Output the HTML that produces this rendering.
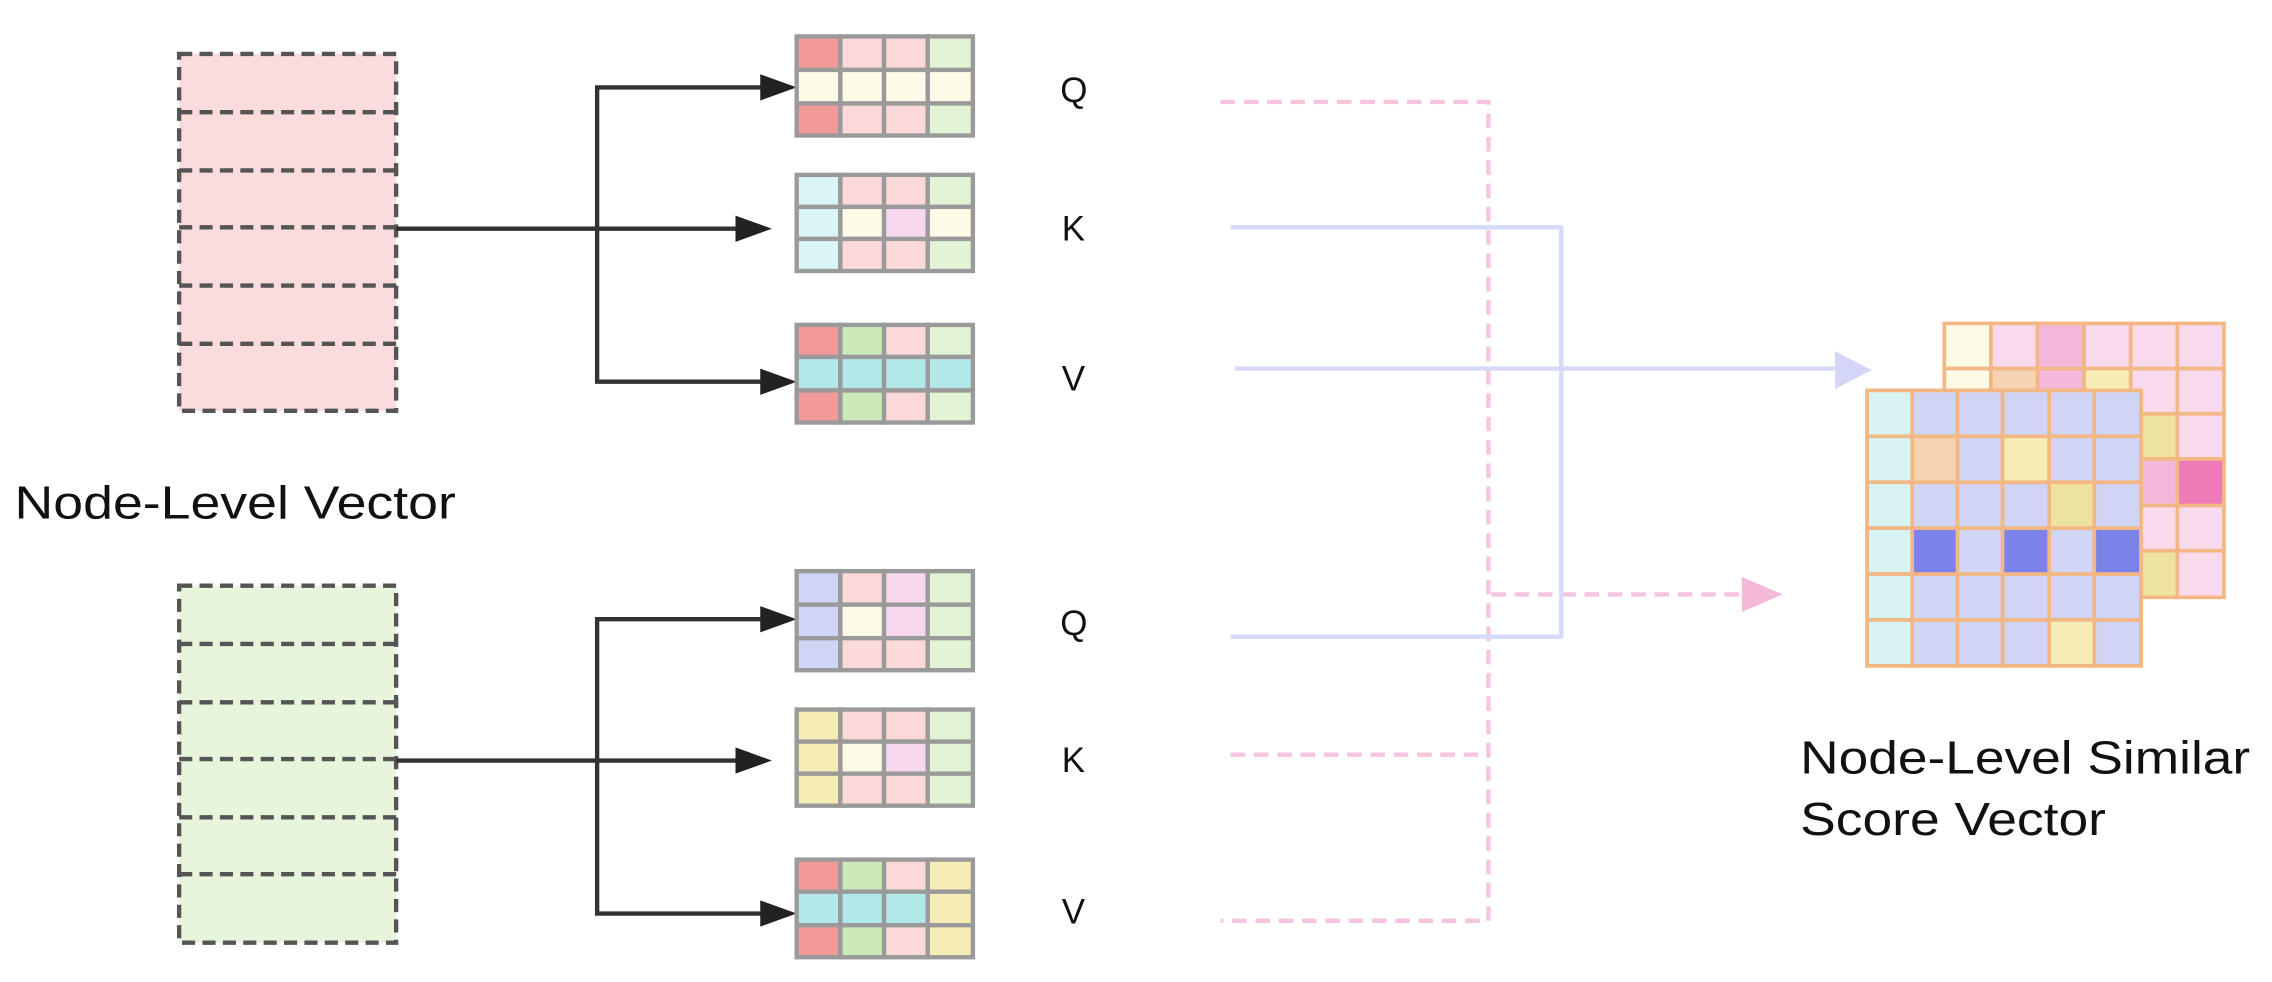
<!DOCTYPE html>
<html><head><meta charset="utf-8"><style>
html,body{margin:0;padding:0;background:#fff;}
svg{display:block;}
text{font-family:"Liberation Sans",sans-serif;fill:#111;}
</style></head><body>
<svg width="2272" height="982" viewBox="0 0 1560 674" preserveAspectRatio="none" xmlns="http://www.w3.org/2000/svg">
<!-- input boxes -->
<g stroke="#555" stroke-width="3" stroke-dasharray="9,5">
<rect x="123" y="37" width="149" height="245" fill="#fbdcdc"/>
<line x1="123" y1="77" x2="272" y2="77"/><line x1="123" y1="117" x2="272" y2="117"/><line x1="123" y1="156" x2="272" y2="156"/><line x1="123" y1="196" x2="272" y2="196"/><line x1="123" y1="236" x2="272" y2="236"/>
<rect x="123" y="402" width="149" height="245" fill="#e6f5db"/>
<line x1="123" y1="442" x2="272" y2="442"/><line x1="123" y1="482" x2="272" y2="482"/><line x1="123" y1="521" x2="272" y2="521"/><line x1="123" y1="561" x2="272" y2="561"/><line x1="123" y1="600" x2="272" y2="600"/>
</g>
<!-- black arrows -->
<g stroke="#333" stroke-width="3" fill="none">
<line x1="272" y1="157" x2="508" y2="157"/>
<polyline points="525,60 410,60 410,262 525,262"/>
<line x1="272" y1="522" x2="508" y2="522"/>
<polyline points="525,425 410,425 410,627 525,627"/>
</g>
<g fill="#222">
<path d="M505,148 L530,157 L505,166z"/><path d="M522,51 L547,60 L522,69z"/><path d="M522,253 L547,262 L522,271z"/>
<path d="M505,513 L530,522 L505,531z"/><path d="M522,416 L547,425 L522,434z"/><path d="M522,618 L547,627 L522,636z"/>
</g>
<!-- matrices -->
<g stroke="#9a9a9a" stroke-width="3">
<rect x="547" y="25" width="30" height="23" fill="#f29a9a"/><rect x="577" y="25" width="30" height="23" fill="#fbd9d9"/><rect x="607" y="25" width="30" height="23" fill="#fbd9d9"/><rect x="637" y="25" width="31" height="23" fill="#e3f4d6"/>
<rect x="547" y="48" width="30" height="23" fill="#fdfae8"/><rect x="577" y="48" width="30" height="23" fill="#fdfae8"/><rect x="607" y="48" width="30" height="23" fill="#fdfae8"/><rect x="637" y="48" width="31" height="23" fill="#fdfae8"/>
<rect x="547" y="71" width="30" height="22" fill="#f29a9a"/><rect x="577" y="71" width="30" height="22" fill="#fbd9d9"/><rect x="607" y="71" width="30" height="22" fill="#fbd9d9"/><rect x="637" y="71" width="31" height="22" fill="#e3f4d6"/>
<rect x="547" y="120" width="30" height="22" fill="#d9f5f5"/><rect x="577" y="120" width="30" height="22" fill="#fbd9d9"/><rect x="607" y="120" width="30" height="22" fill="#fbd9d9"/><rect x="637" y="120" width="31" height="22" fill="#e3f4d6"/>
<rect x="547" y="142" width="30" height="22" fill="#d9f5f5"/><rect x="577" y="142" width="30" height="22" fill="#fdfae8"/><rect x="607" y="142" width="30" height="22" fill="#f8d8ee"/><rect x="637" y="142" width="31" height="22" fill="#fdfae8"/>
<rect x="547" y="164" width="30" height="22" fill="#d9f5f5"/><rect x="577" y="164" width="30" height="22" fill="#fbd9d9"/><rect x="607" y="164" width="30" height="22" fill="#fbd9d9"/><rect x="637" y="164" width="31" height="22" fill="#e3f4d6"/>
<rect x="547" y="223" width="30" height="22" fill="#f29a9a"/><rect x="577" y="223" width="30" height="22" fill="#cbeab8"/><rect x="607" y="223" width="30" height="22" fill="#fbd9d9"/><rect x="637" y="223" width="31" height="22" fill="#e3f4d6"/>
<rect x="547" y="245" width="30" height="23" fill="#b3e8e8"/><rect x="577" y="245" width="30" height="23" fill="#b3e8e8"/><rect x="607" y="245" width="30" height="23" fill="#b3e8e8"/><rect x="637" y="245" width="31" height="23" fill="#b3e8e8"/>
<rect x="547" y="268" width="30" height="22" fill="#f29a9a"/><rect x="577" y="268" width="30" height="22" fill="#cbeab8"/><rect x="607" y="268" width="30" height="22" fill="#fbd9d9"/><rect x="637" y="268" width="31" height="22" fill="#e3f4d6"/>
<rect x="547" y="392" width="30" height="23" fill="#d0d4f5"/><rect x="577" y="392" width="30" height="23" fill="#fbd9d9"/><rect x="607" y="392" width="30" height="23" fill="#f8d8ee"/><rect x="637" y="392" width="31" height="23" fill="#e3f4d6"/>
<rect x="547" y="415" width="30" height="23" fill="#d0d4f5"/><rect x="577" y="415" width="30" height="23" fill="#fdfae8"/><rect x="607" y="415" width="30" height="23" fill="#f8d8ee"/><rect x="637" y="415" width="31" height="23" fill="#e3f4d6"/>
<rect x="547" y="438" width="30" height="22" fill="#d0d4f5"/><rect x="577" y="438" width="30" height="22" fill="#fbd9d9"/><rect x="607" y="438" width="30" height="22" fill="#fbd9d9"/><rect x="637" y="438" width="31" height="22" fill="#e3f4d6"/>
<rect x="547" y="487" width="30" height="22" fill="#f5edb5"/><rect x="577" y="487" width="30" height="22" fill="#fbd9d9"/><rect x="607" y="487" width="30" height="22" fill="#fbd9d9"/><rect x="637" y="487" width="31" height="22" fill="#e3f4d6"/>
<rect x="547" y="509" width="30" height="22" fill="#f5edb5"/><rect x="577" y="509" width="30" height="22" fill="#fdfae8"/><rect x="607" y="509" width="30" height="22" fill="#f8d8ee"/><rect x="637" y="509" width="31" height="22" fill="#e3f4d6"/>
<rect x="547" y="531" width="30" height="22" fill="#f5edb5"/><rect x="577" y="531" width="30" height="22" fill="#fbd9d9"/><rect x="607" y="531" width="30" height="22" fill="#fbd9d9"/><rect x="637" y="531" width="31" height="22" fill="#e3f4d6"/>
<rect x="547" y="590" width="30" height="22" fill="#f29a9a"/><rect x="577" y="590" width="30" height="22" fill="#cbeab8"/><rect x="607" y="590" width="30" height="22" fill="#fbd9d9"/><rect x="637" y="590" width="31" height="22" fill="#f5edb5"/>
<rect x="547" y="612" width="30" height="23" fill="#b3e8e8"/><rect x="577" y="612" width="30" height="23" fill="#b3e8e8"/><rect x="607" y="612" width="30" height="23" fill="#b3e8e8"/><rect x="637" y="612" width="31" height="23" fill="#f5edb5"/>
<rect x="547" y="635" width="30" height="22" fill="#f29a9a"/><rect x="577" y="635" width="30" height="22" fill="#cbeab8"/><rect x="607" y="635" width="30" height="22" fill="#fbd9d9"/><rect x="637" y="635" width="31" height="22" fill="#f5edb5"/>
</g>
<g font-size="24">
<text x="728" y="70">Q</text><text x="729" y="165">K</text><text x="729" y="268">V</text>
<text x="728" y="436">Q</text><text x="729" y="530">K</text><text x="729" y="634">V</text>
</g>
<g stroke="#f7c4e0" stroke-width="3" fill="none" stroke-dasharray="10,6">
<polyline points="838,70 1022,70 1022,632 838,632"/>
<polyline points="845,518 1022,518"/>
<line x1="1024" y1="408" x2="1200" y2="408"/>
</g>
<path d="M1196,396 L1224,408 L1196,420z" fill="#f4b8d9"/>
<g stroke="#d6d9f7" stroke-width="3" fill="none">
<polyline points="845,156 1072,156 1072,437 845,437"/>
<line x1="848" y1="253" x2="1262" y2="253"/>
</g>
<path d="M1260,241 L1285,254 L1260,267z" fill="#d3d6f7"/>
<g stroke="#f2b782" stroke-width="2.5">
<rect x="1335" y="222" width="32" height="31" fill="#fdfae8"/><rect x="1367" y="222" width="32" height="31" fill="#f9d9ec"/><rect x="1399" y="222" width="32" height="31" fill="#f3b8da"/><rect x="1431" y="222" width="32" height="31" fill="#f9d9ec"/><rect x="1463" y="222" width="32" height="31" fill="#f9d9ec"/><rect x="1495" y="222" width="32" height="31" fill="#f9d9ec"/>
<rect x="1335" y="253" width="32" height="31" fill="#fdfae8"/><rect x="1367" y="253" width="32" height="31" fill="#f6d4b3"/><rect x="1399" y="253" width="32" height="31" fill="#f3b8da"/><rect x="1431" y="253" width="32" height="31" fill="#f5edb5"/><rect x="1463" y="253" width="32" height="31" fill="#f9d9ec"/><rect x="1495" y="253" width="32" height="31" fill="#f9d9ec"/>
<rect x="1463" y="284" width="32" height="31" fill="#efe3a0"/><rect x="1495" y="284" width="32" height="31" fill="#f9d9ec"/>
<rect x="1463" y="315" width="32" height="32" fill="#f3b8da"/><rect x="1495" y="315" width="32" height="32" fill="#ee7ab8"/>
<rect x="1463" y="347" width="32" height="31" fill="#f9d9ec"/><rect x="1495" y="347" width="32" height="31" fill="#f9d9ec"/>
<rect x="1463" y="378" width="32" height="32" fill="#efe3a0"/><rect x="1495" y="378" width="32" height="32" fill="#f9d9ec"/>
</g>
<g stroke="#f2b782" stroke-width="2.5">
<rect x="1282" y="268" width="188" height="189" fill="#d0d4f5"/>
<g fill="#d8f4f2"><rect x="1282" y="268" width="31" height="31.5"/><rect x="1282" y="299.5" width="31" height="31.5"/><rect x="1282" y="331" width="31" height="31.5"/><rect x="1282" y="362.5" width="31" height="31.5"/><rect x="1282" y="394" width="31" height="31.5"/><rect x="1282" y="425.5" width="31" height="31.5"/></g>
<g fill="#d0d4f5">
<rect x="1313" y="268" width="31" height="31.5"/><rect x="1344" y="268" width="31" height="31.5"/><rect x="1375" y="268" width="32" height="31.5"/><rect x="1407" y="268" width="31" height="31.5"/><rect x="1438" y="268" width="32" height="31.5"/>
<rect x="1344" y="299.5" width="31" height="31.5"/><rect x="1407" y="299.5" width="31" height="31.5"/><rect x="1438" y="299.5" width="32" height="31.5"/>
<rect x="1313" y="331" width="31" height="31.5"/><rect x="1344" y="331" width="31" height="31.5"/><rect x="1375" y="331" width="32" height="31.5"/><rect x="1438" y="331" width="32" height="31.5"/>
<rect x="1344" y="362.5" width="31" height="31.5"/><rect x="1407" y="362.5" width="31" height="31.5"/>
<rect x="1313" y="394" width="31" height="31.5"/><rect x="1344" y="394" width="31" height="31.5"/><rect x="1375" y="394" width="32" height="31.5"/><rect x="1407" y="394" width="31" height="31.5"/><rect x="1438" y="394" width="32" height="31.5"/>
<rect x="1313" y="425.5" width="31" height="31.5"/><rect x="1344" y="425.5" width="31" height="31.5"/><rect x="1375" y="425.5" width="32" height="31.5"/><rect x="1438" y="425.5" width="32" height="31.5"/>
</g>
<rect x="1313" y="299.5" width="31" height="31.5" fill="#f6d4b3"/><rect x="1375" y="299.5" width="32" height="31.5" fill="#f5edb5"/>
<rect x="1407" y="331" width="31" height="31.5" fill="#eee39e"/>
<rect x="1313" y="362.5" width="31" height="31.5" fill="#7b83e8"/><rect x="1375" y="362.5" width="32" height="31.5" fill="#7b83e8"/><rect x="1438" y="362.5" width="32" height="31.5" fill="#7b83e8"/>
<rect x="1407" y="425.5" width="31" height="31.5" fill="#f5edb5"/>
</g>
<g font-size="32">
<text x="10" y="356" textLength="303" lengthAdjust="spacingAndGlyphs">Node-Level Vector</text>
<text x="1236" y="531" textLength="309" lengthAdjust="spacingAndGlyphs">Node-Level Similar</text>
<text x="1236" y="573" textLength="210" lengthAdjust="spacingAndGlyphs">Score Vector</text>
</g>
</svg>
</body></html>
